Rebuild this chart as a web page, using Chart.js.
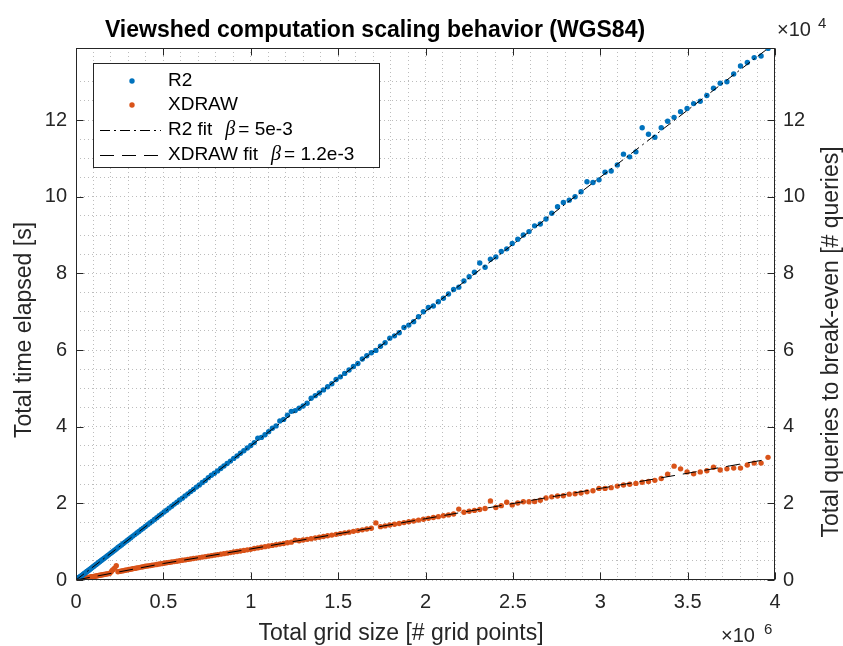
<!DOCTYPE html>
<html lang="en">
<head>
<meta charset="UTF-8" />
<title>Viewshed computation scaling behavior (WGS84)</title>
<script src="https://cdn.jsdelivr.net/npm/chart.js"></script>
<style>
    html, body { margin: 0; padding: 0; background: #fff; }
    #wrap { width: 843px; height: 646px; }
</style>
</head>
<body>
<div id="wrap"><canvas id="scalingChart" width="843" height="646"></canvas></div>
<script>
// total grid size, in millions of grid points (square grids, side 10 .. 1990)
const gridSize = [
    0.0001, 0.0004, 0.0009, 0.0016, 0.0025, 0.0036, 0.0049, 0.0064, 0.0081, 0.0100,
    0.0121, 0.0144, 0.0169, 0.0196, 0.0225, 0.0256, 0.0289, 0.0324, 0.0361, 0.0400,
    0.0441, 0.0484, 0.0529, 0.0576, 0.0625, 0.0676, 0.0729, 0.0784, 0.0841, 0.0900,
    0.0961, 0.1024, 0.1089, 0.1156, 0.1225, 0.1296, 0.1369, 0.1444, 0.1521, 0.1600,
    0.1681, 0.1764, 0.1849, 0.1936, 0.2025, 0.2116, 0.2209, 0.2304, 0.2401, 0.2500,
    0.2601, 0.2704, 0.2809, 0.2916, 0.3025, 0.3136, 0.3249, 0.3364, 0.3481, 0.3600,
    0.3721, 0.3844, 0.3969, 0.4096, 0.4225, 0.4356, 0.4489, 0.4624, 0.4761, 0.4900,
    0.5041, 0.5184, 0.5329, 0.5476, 0.5625, 0.5776, 0.5929, 0.6084, 0.6241, 0.6400,
    0.6561, 0.6724, 0.6889, 0.7056, 0.7225, 0.7396, 0.7569, 0.7744, 0.7921, 0.8100,
    0.8281, 0.8464, 0.8649, 0.8836, 0.9025, 0.9216, 0.9409, 0.9604, 0.9801, 1.0000,
    1.0201, 1.0404, 1.0609, 1.0816, 1.1025, 1.1236, 1.1449, 1.1664, 1.1881, 1.2100,
    1.2321, 1.2544, 1.2769, 1.2996, 1.3225, 1.3456, 1.3689, 1.3924, 1.4161, 1.4400,
    1.4641, 1.4884, 1.5129, 1.5376, 1.5625, 1.5876, 1.6129, 1.6384, 1.6641, 1.6900,
    1.7161, 1.7424, 1.7689, 1.7956, 1.8225, 1.8496, 1.8769, 1.9044, 1.9321, 1.9600,
    1.9881, 2.0164, 2.0449, 2.0736, 2.1025, 2.1316, 2.1609, 2.1904, 2.2201, 2.2500,
    2.2801, 2.3104, 2.3409, 2.3716, 2.4025, 2.4336, 2.4649, 2.4964, 2.5281, 2.5600,
    2.5921, 2.6244, 2.6569, 2.6896, 2.7225, 2.7556, 2.7889, 2.8224, 2.8561, 2.8900,
    2.9241, 2.9584, 2.9929, 3.0276, 3.0625, 3.0976, 3.1329, 3.1684, 3.2041, 3.2400,
    3.2761, 3.3124, 3.3489, 3.3856, 3.4225, 3.4596, 3.4969, 3.5344, 3.5721, 3.6100,
    3.6481, 3.6864, 3.7249, 3.7636, 3.8025, 3.8416, 3.8809, 3.9204, 3.9601
];

// elapsed time [s], R2 algorithm
const r2Time = [
    0.001, 0.002, 0.003, 0.006, 0.009, 0.013, 0.017, 0.023, 0.029, 0.036,
    0.043, 0.051, 0.060, 0.069, 0.079, 0.090, 0.102, 0.114, 0.127, 0.141,
    0.155, 0.170, 0.186, 0.202, 0.220, 0.238, 0.257, 0.275, 0.296, 0.317,
    0.338, 0.359, 0.384, 0.407, 0.431, 0.456, 0.481, 0.509, 0.535, 0.564,
    0.591, 0.621, 0.650, 0.682, 0.712, 0.745, 0.779, 0.810, 0.846, 0.881,
    0.915, 0.952, 0.989, 1.027, 1.064, 1.103, 1.145, 1.184, 1.226, 1.266,
    1.310, 1.351, 1.397, 1.440, 1.487, 1.530, 1.579, 1.625, 1.676, 1.720,
    1.774, 1.820, 1.876, 1.924, 1.980, 2.028, 2.086, 2.136, 2.194, 2.248,
    2.306, 2.362, 2.424, 2.480, 2.542, 2.597, 2.670, 2.733, 2.785, 2.846,
    2.910, 2.975, 3.040, 3.102, 3.172, 3.236, 3.305, 3.371, 3.442, 3.510,
    3.585, 3.700, 3.720, 3.790, 3.870, 3.960, 4.020, 4.150, 4.190, 4.300,
    4.400, 4.420, 4.480, 4.540, 4.610, 4.740, 4.810, 4.880, 4.960, 5.040,
    5.120, 5.230, 5.300, 5.390, 5.480, 5.570, 5.650, 5.766, 5.850, 5.930,
    5.990, 6.100, 6.190, 6.310, 6.370, 6.450, 6.590, 6.650, 6.740, 6.870,
    7.000, 7.110, 7.150, 7.260, 7.350, 7.460, 7.580, 7.640, 7.800, 7.910,
    8.030, 8.270, 8.160, 8.370, 8.430, 8.570, 8.640, 8.780, 8.890, 9.000,
    9.090, 9.240, 9.290, 9.420, 9.570, 9.740, 9.850, 9.910, 10.00, 10.13,
    10.39, 10.37, 10.44, 10.64, 10.67, 10.83, 11.11, 11.04, 11.17, 11.80,
    11.63, 11.55, 11.80, 11.97, 12.07, 12.22, 12.30, 12.43, 12.49, 12.64,
    12.83, 12.96, 13.00, 13.20, 13.41, 13.50, 13.63, 13.67, 13.87
];

// elapsed time [s], XDRAW algorithm
const xdrawTime = [
    0.0001, 0.0004, 0.0009, 0.0015, 0.0024, 0.0034, 0.0047, 0.0061, 0.0077, 0.0095,
    0.0115, 0.0137, 0.016, 0.0186, 0.0214, 0.0243, 0.0275, 0.0308, 0.0343, 0.038,
    0.042, 0.046, 0.050, 0.055, 0.059, 0.064, 0.069, 0.074, 0.080, 0.085,
    0.087, 0.092, 0.098, 0.104, 0.110, 0.117, 0.123, 0.130, 0.137, 0.144,
    0.151, 0.159, 0.166, 0.174, 0.220, 0.270, 0.310, 0.370, 0.216, 0.225,
    0.234, 0.243, 0.253, 0.262, 0.272, 0.282, 0.292, 0.303, 0.313, 0.324,
    0.335, 0.346, 0.357, 0.364, 0.374, 0.384, 0.395, 0.405, 0.416, 0.427,
    0.438, 0.449, 0.459, 0.470, 0.480, 0.491, 0.502, 0.514, 0.525, 0.537,
    0.548, 0.560, 0.572, 0.584, 0.597, 0.609, 0.622, 0.635, 0.648, 0.661,
    0.674, 0.688, 0.701, 0.715, 0.729, 0.743, 0.757, 0.772, 0.786, 0.800,
    0.821, 0.837, 0.853, 0.870, 0.886, 0.903, 0.920, 0.937, 0.954, 0.971,
    0.988, 1.040, 1.024, 1.042, 1.060, 1.078, 1.096, 1.115, 1.134, 1.153,
    1.172, 1.191, 1.210, 1.230, 1.249, 1.269, 1.289, 1.309, 1.330, 1.350,
    1.490, 1.392, 1.412, 1.434, 1.455, 1.476, 1.498, 1.519, 1.541, 1.563,
    1.586, 1.608, 1.631, 1.653, 1.676, 1.699, 1.722, 1.850, 1.769, 1.793,
    1.816, 1.840, 1.864, 2.060, 1.890, 1.940, 2.030, 1.960, 2.010, 2.040,
    2.040, 2.050, 2.080, 2.140, 2.170, 2.190, 2.200, 2.240, 2.250, 2.270,
    2.300, 2.330, 2.390, 2.390, 2.410, 2.450, 2.480, 2.500, 2.520, 2.550,
    2.570, 2.600, 2.650, 2.760, 2.970, 2.900, 2.820, 2.770, 2.820, 2.850,
    2.940, 2.870, 2.900, 2.920, 2.920, 3.000, 3.050, 3.050, 3.200
];

// fitted curves
const r2FitX = [0, 3.9601];
const r2FitY = [0, 13.87];
const xdrawFitX = [0, 0.5, 1, 2, 3, 3.9601];
const xdrawFitY = [0, 0.43, 0.81, 1.6, 2.39, 3.15];

const xTicks = [0, 0.5, 1, 1.5, 2, 2.5, 3, 3.5, 4];
const yTicks = [0, 2, 4, 6, 8, 10, 12];
const yMax = 13.88;

const FONT = '"Liberation Sans", Arial, Helvetica, sans-serif';
const AXIS_COLOR = '#262626';
const GRID_COLOR = '#bcbcbc';
const BLUE = '#0072BD';
const ORANGE = '#D95319';

function toPoints(xs, ys) {
    return xs.map((x, i) => ({ x: x, y: ys[i] }));
}

// only major ticks get a label, minor ones just carry a grid line
function majorLabel(list) {
    return v => {
        const t = list.find(t => Math.abs(t - v) < 1e-6);
        return t === undefined ? '' : String(t);
    };
}

// MATLAB style box, inward ticks, exponents, titles and legend
const matlabFrame = {
    id: 'matlabFrame',
    afterDraw(chart) {
        const { ctx, chartArea: a, scales } = chart;
        const L = Math.round(a.left) + 0.5, R = Math.round(a.right) - 0.5;
        const T = Math.round(a.top) + 0.5, B = Math.round(a.bottom) - 0.5;
        ctx.save();
        ctx.strokeStyle = AXIS_COLOR;
        ctx.lineWidth = 1;
        ctx.setLineDash([]);
        ctx.strokeRect(L, T, R - L, B - T);

        ctx.beginPath();
        xTicks.forEach(t => {
            const px = Math.round(scales.x.getPixelForValue(t)) + 0.5;
            ctx.moveTo(px, B); ctx.lineTo(px, B - 7);
            ctx.moveTo(px, T); ctx.lineTo(px, T + 7);
        });
        yTicks.forEach(t => {
            const py = Math.round(scales.y.getPixelForValue(t)) + 0.5;
            ctx.moveTo(L, py); ctx.lineTo(L + 7, py);
            ctx.moveTo(R, py); ctx.lineTo(R - 7, py);
        });
        ctx.stroke();

        ctx.fillStyle = AXIS_COLOR;
        ctx.textBaseline = 'alphabetic';

        // exponent markers
        ctx.textAlign = 'left';
        ctx.font = '20px ' + FONT;
        ctx.fillText('\u00d710', 721, 642);
        ctx.fillText('\u00d710', 777, 36);
        ctx.font = '15px ' + FONT;
        ctx.fillText('6', 764, 634);
        ctx.fillText('4', 818, 28);

        // chart title
        ctx.fillStyle = '#000';
        ctx.textAlign = 'center';
        ctx.font = 'bold 23px ' + FONT;
        ctx.fillText('Viewshed computation scaling behavior (WGS84)', 375, 37);

        // axis titles
        ctx.fillStyle = AXIS_COLOR;
        ctx.font = '23px ' + FONT;
        ctx.fillText('Total grid size [# grid points]', 401, 640);
        ctx.textBaseline = 'middle';
        ctx.save();
        ctx.translate(25, 330);
        ctx.rotate(-Math.PI / 2);
        ctx.fillText('Total time elapsed [s]', 0, 0);
        ctx.restore();
        ctx.save();
        ctx.translate(832, 342);
        ctx.rotate(-Math.PI / 2);
        ctx.fillText('Total queries to break-even [# queries]', 0, 0);
        ctx.restore();

        // legend
        const box = { x: 93.5, y: 63.5, w: 286, h: 104 };
        ctx.fillStyle = '#fff';
        ctx.fillRect(box.x, box.y, box.w, box.h);
        ctx.strokeStyle = AXIS_COLOR;
        ctx.strokeRect(box.x, box.y, box.w, box.h);

        const rows = [81, 105, 130, 155];
        const textX = 168;
        [BLUE, ORANGE].forEach((c, i) => {
            ctx.fillStyle = c;
            ctx.beginPath();
            ctx.arc(132, rows[i], 2.7, 0, Math.PI * 2);
            ctx.fill();
        });
        ctx.strokeStyle = '#000';
        ctx.lineWidth = 1;
        [[10, 4, 2, 4], [14, 8]].forEach((d, i) => {
            ctx.setLineDash(d);
            ctx.beginPath();
            ctx.moveTo(100, rows[i + 2] + 0.5);
            ctx.lineTo(161, rows[i + 2] + 0.5);
            ctx.stroke();
        });
        ctx.setLineDash([]);

        ctx.fillStyle = '#000';
        ctx.textAlign = 'left';
        ctx.textBaseline = 'middle';
        ctx.font = '19px ' + FONT;
        ctx.fillText('R2', textX, rows[0]);
        ctx.fillText('XDRAW', textX, rows[1]);
        [['R2 fit', '= 5e-3'], ['XDRAW fit', '= 1.2e-3']].forEach((p, i) => {
            const y = rows[i + 2];
            ctx.font = '19px ' + FONT;
            const bx = textX + ctx.measureText(p[0]).width + 13;
            ctx.fillText(p[0], textX, y);
            ctx.font = 'italic 20px "Liberation Serif", serif';
            ctx.fillText('\u03b2', bx, y);
            const ex = bx + ctx.measureText('\u03b2').width + 3;
            ctx.font = '19px ' + FONT;
            ctx.fillText(p[1], ex, y);
        });
        ctx.restore();
    }
};

const tickFont = { family: FONT, size: 20 };

new Chart(document.getElementById('scalingChart'), {
    type: 'scatter',
    data: {
        datasets: [
            {
                label: 'R2 fit', data: toPoints(r2FitX, r2FitY), showLine: true,
                borderColor: '#000', borderWidth: 1, borderDash: [10, 4, 2, 4],
                pointRadius: 0, order: 0
            },
            {
                label: 'XDRAW fit', data: toPoints(xdrawFitX, xdrawFitY), showLine: true,
                borderColor: '#000', borderWidth: 1, borderDash: [14, 8],
                pointRadius: 0, order: 0
            },
            {
                label: 'R2', data: toPoints(gridSize, r2Time),
                backgroundColor: BLUE, pointRadius: 2.7, borderWidth: 0, order: 1
            },
            {
                label: 'XDRAW', data: toPoints(gridSize, xdrawTime),
                backgroundColor: ORANGE, pointRadius: 2.7, borderWidth: 0, order: 2
            }
        ]
    },
    options: {
        responsive: false,
        animation: false,
        events: [],
        layout: { padding: { top: 48, left: 0, right: 0, bottom: 0 } },
        plugins: { legend: { display: false }, tooltip: { enabled: false } },
        scales: {
            x: {
                type: 'linear', position: 'bottom', min: 0, max: 4,
                afterFit: s => { s.height = 66; },
                ticks: {
                    stepSize: 0.1, autoSkip: false, maxRotation: 0, padding: 10,
                    color: AXIS_COLOR, font: tickFont, callback: majorLabel(xTicks)
                },
                grid: { color: GRID_COLOR, drawTicks: false, lineWidth: 1 },
                border: { display: false, dash: [1, 3] }
            },
            y: {
                type: 'linear', position: 'left', min: 0, max: yMax,
                afterFit: s => { s.width = 76; },
                ticks: {
                    stepSize: 0.5, autoSkip: false, padding: 9,
                    color: AXIS_COLOR, font: tickFont, callback: majorLabel(yTicks)
                },
                grid: { color: GRID_COLOR, drawTicks: false, lineWidth: 1 },
                border: { display: false, dash: [1, 3] }
            },
            y2: {
                type: 'linear', position: 'right', min: 0, max: yMax,
                afterFit: s => { s.width = 68; },
                ticks: {
                    stepSize: 0.5, autoSkip: false, padding: 8,
                    color: AXIS_COLOR, font: tickFont, callback: majorLabel(yTicks)
                },
                grid: { display: false, drawTicks: false },
                border: { display: false }
            }
        }
    },
    plugins: [matlabFrame]
});
</script>
</body>
</html>
